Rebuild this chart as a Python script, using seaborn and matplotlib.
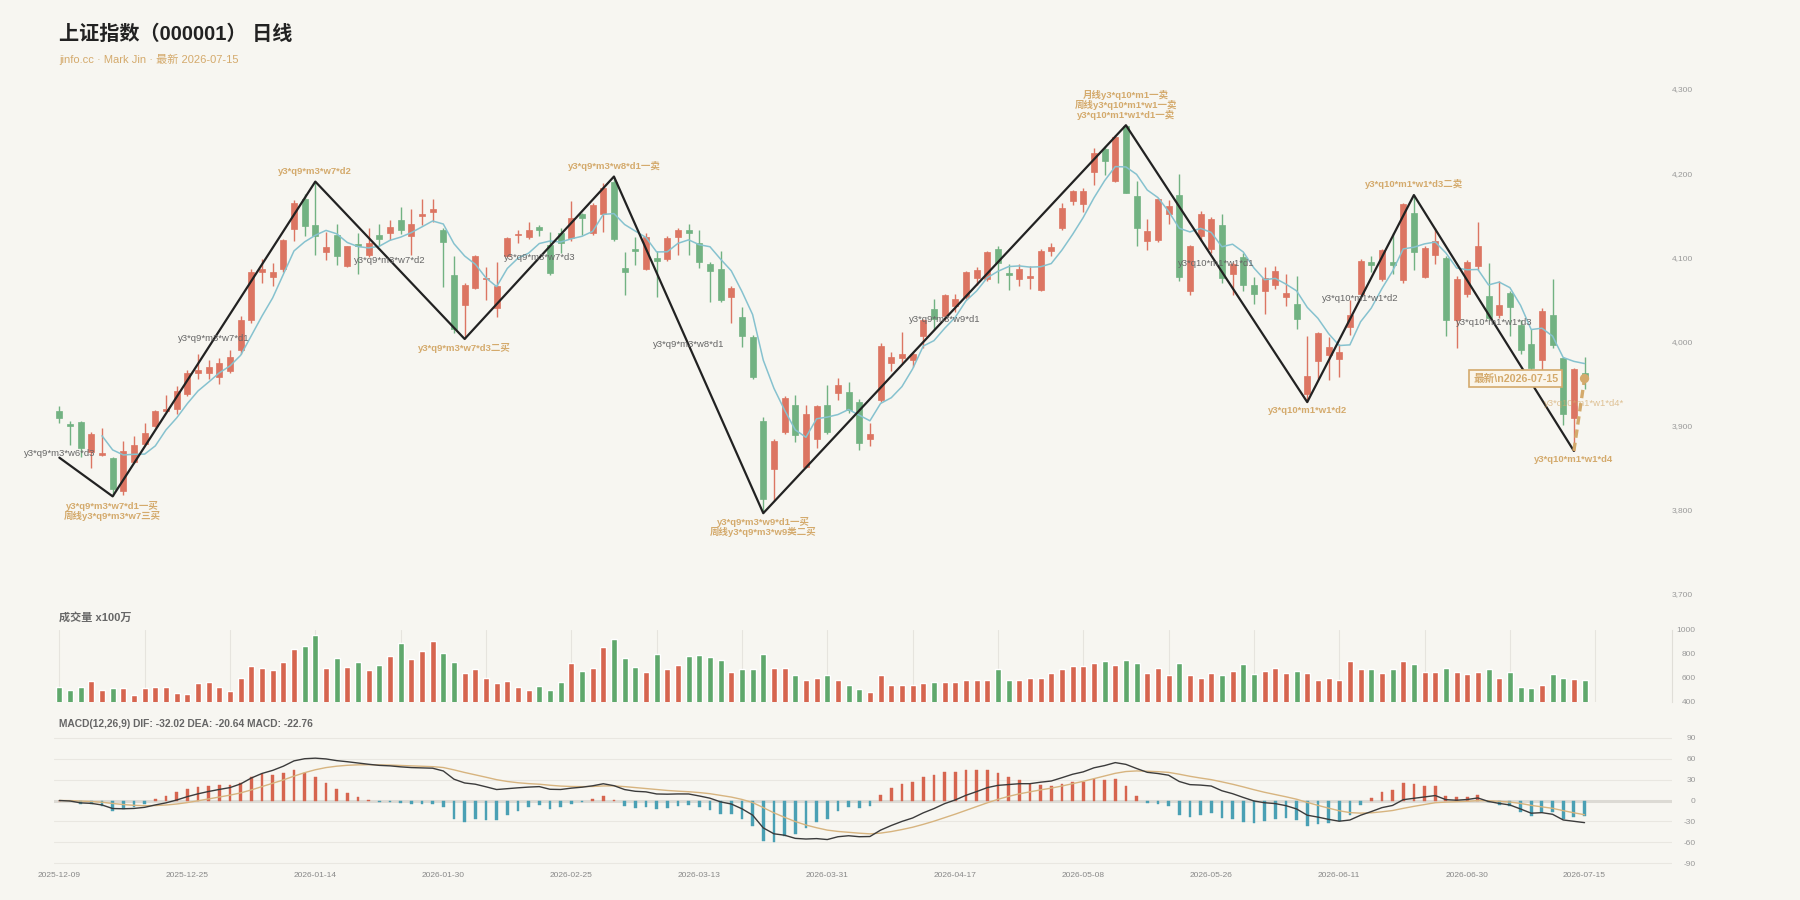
import numpy as np
import pandas as pd
import matplotlib.pyplot as plt
import seaborn as sns

# ---- daily candles (index points) ----
opens = [3917, 3902, 3904, 3869, 3865, 3862, 3822, 3857, 3878, 3900,
         3918, 3920, 3938, 3962, 3962, 3958, 3965, 3990, 4025, 4083,
         4077, 4086, 4134, 4169, 4138, 4106, 4127, 4090, 4116, 4103,
         4126, 4129, 4144, 4125, 4149, 4154, 4132, 4079, 4043, 4064,
         4074, 4040, 4102, 4127, 4124, 4136, 4115, 4129, 4123, 4151,
         4129, 4152, 4189, 4087, 4110, 4086, 4099, 4098, 4124, 4132,
         4117, 4092, 4086, 4053, 4029, 4005, 3906, 3849, 3892, 3925,
         3851, 3884, 3925, 3939, 3940, 3928, 3884, 3930, 3975, 3980,
         3978, 4006, 4039, 4030, 4042, 4053, 4075, 4074, 4110, 4081,
         4074, 4075, 4061, 4107, 4135, 4167, 4163, 4201, 4229, 4191,
         4256, 4173, 4119, 4121, 4152, 4174, 4060, 4125, 4110, 4138,
         4080, 4100, 4067, 4060, 4067, 4053, 4045, 3938, 3977, 3984,
         3979, 4017, 4057, 4094, 4074, 4094, 4073, 4153, 4077, 4103,
         4099, 4026, 4057, 4090, 4054, 4031, 4058, 4020, 3997, 3978,
         4031, 3980, 3909, 3963]
highs = [3923, 3905, 3905, 3892, 3897, 3863, 3882, 3888, 3903, 3919,
         3936, 3947, 3966, 3985, 3978, 3980, 3990, 4030, 4086, 4098,
         4093, 4122, 4168, 4175, 4190, 4130, 4140, 4114, 4129, 4135,
         4140, 4144, 4160, 4158, 4169, 4169, 4135, 4102, 4070, 4103,
         4088, 4094, 4124, 4132, 4142, 4139, 4130, 4135, 4167, 4153,
         4164, 4188, 4196, 4106, 4124, 4129, 4107, 4125, 4135, 4140,
         4133, 4095, 4108, 4066, 4041, 4008, 3910, 3884, 3935, 3936,
         3924, 3925, 3948, 3957, 3952, 3932, 3903, 3998, 3988, 4011,
         3988, 4027, 4050, 4057, 4057, 4084, 4088, 4108, 4114, 4092,
         4092, 4090, 4110, 4117, 4165, 4180, 4182, 4230, 4232, 4245,
         4257, 4191, 4145, 4171, 4168, 4199, 4115, 4155, 4148, 4152,
         4095, 4105, 4077, 4089, 4090, 4080, 4078, 4007, 4011, 4005,
         3997, 4049, 4098, 4101, 4110, 4129, 4165, 4174, 4113, 4135,
         4101, 4078, 4097, 4142, 4093, 4072, 4060, 4025, 4015, 4040,
         4074, 3982, 3968, 3981]
lows = [3903, 3877, 3863, 3850, 3864, 3816, 3818, 3856, 3877, 3899,
        3917, 3914, 3935, 3955, 3955, 3950, 3962, 3985, 4022, 4069,
        4066, 4083, 4120, 4125, 4103, 4097, 4091, 4089, 4080, 4100,
        4113, 4121, 4128, 4103, 4138, 4142, 4065, 4010, 4003, 4062,
        4049, 4029, 4100, 4117, 4122, 4125, 4079, 4105, 4120, 4127,
        4127, 4130, 4120, 4055, 4091, 4085, 4053, 4096, 4103, 4103,
        4087, 4047, 4047, 4022, 3994, 3955, 3796, 3810, 3890, 3881,
        3850, 3873, 3890, 3930, 3915, 3871, 3876, 3928, 3965, 3975,
        3970, 3992, 4015, 4025, 4035, 4050, 4067, 4072, 4070, 4061,
        4066, 4062, 4060, 4102, 4132, 4162, 4154, 4186, 4198, 4189,
        4176, 4114, 4109, 4118, 4140, 4072, 4055, 4120, 4105, 4070,
        4055, 4060, 4045, 4033, 4062, 4042, 4015, 3928, 3956, 3954,
        3958, 4008, 4055, 4083, 4072, 4080, 4070, 4085, 4075, 4092,
        4007, 3992, 4053, 4085, 4025, 4028, 4006, 3985, 3966, 3960,
        3992, 3901, 3870, 3944]
closes = [3909, 3900, 3873, 3890, 3868, 3825, 3870, 3877, 3891, 3917,
          3920, 3941, 3962, 3966, 3970, 3975, 3982, 4025, 4083, 4086,
          4083, 4121, 4165, 4137, 4125, 4112, 4101, 4113, 4113, 4117,
          4122, 4136, 4132, 4140, 4151, 4157, 4118, 4015, 4067, 4102,
          4076, 4066, 4123, 4128, 4132, 4133, 4081, 4117, 4147, 4147,
          4162, 4182, 4122, 4082, 4108, 4124, 4096, 4123, 4132, 4129,
          4095, 4084, 4049, 4063, 4006, 3958, 3813, 3882, 3933, 3889,
          3914, 3923, 3892, 3948, 3919, 3880, 3890, 3995, 3982, 3985,
          3985, 4026, 4027, 4055, 4051, 4082, 4085, 4106, 4093, 4079,
          4086, 4078, 4108, 4112, 4159, 4179, 4179, 4224, 4214, 4243,
          4177, 4135, 4131, 4169, 4161, 4077, 4113, 4152, 4145, 4076,
          4092, 4067, 4057, 4075, 4084, 4058, 4027, 3959, 4010, 3993,
          3987, 4031, 4096, 4091, 4109, 4091, 4163, 4106, 4111, 4120,
          4026, 4074, 4095, 4113, 4028, 4043, 4041, 3990, 3969, 4036,
          3996, 3914, 3967, 3956]
# volume, x100万
volumes = [525, 497, 525, 575, 500, 514, 514, 461, 514, 522,
           522, 475, 469, 555, 567, 525, 494, 597, 703, 683,
           667, 731, 842, 869, 956, 681, 764, 689, 736, 667,
           708, 783, 889, 756, 822, 908, 806, 733, 639, 675,
           597, 558, 575, 525, 500, 531, 500, 567, 728, 656,
           683, 861, 922, 767, 692, 650, 800, 675, 708, 786,
           792, 777, 748, 651, 671, 671, 797, 680, 680, 622,
           584, 603, 622, 584, 545, 506, 487, 622, 545, 545,
           545, 555, 564, 564, 564, 584, 584, 584, 671, 584,
           584, 603, 603, 642, 671, 700, 700, 729, 739, 710,
           748, 729, 642, 680, 622, 729, 622, 603, 642, 622,
           661, 719, 632, 661, 680, 642, 661, 642, 584, 603,
           584, 739, 671, 671, 642, 671, 739, 719, 651, 651,
           680, 651, 632, 651, 671, 603, 651, 526, 516, 545,
           632, 603, 593, 584]

holidays = ['2026-01-01', '2026-01-02', '2026-02-16', '2026-02-17', '2026-02-18',
            '2026-02-19', '2026-02-20', '2026-02-23', '2026-04-06', '2026-05-01',
            '2026-05-04', '2026-05-05', '2026-06-19']

# ---- zigzag pivots (bar index, price) and their labels ----
pivot_idx = [0, 5, 24, 38, 52, 66, 100, 117, 127, 142]
pivot_val = [3862, 3816, 4190, 4003, 4196, 3796, 4257, 3928, 4174, 3870]
pivot_kind = ['start', 'low', 'high', 'low', 'high', 'low', 'high', 'low', 'high', 'low']
pivot_text = ['',
              'y3*q9*m3*w7*d1一买\n周线y3*q9*m3*w7三买',
              'y3*q9*m3*w7*d2',
              'y3*q9*m3*w7*d3二买',
              'y3*q9*m3*w8*d1一卖',
              'y3*q9*m3*w9*d1一买\n周线y3*q9*m3*w9类二买',
              '月线y3*q10*m1一卖\n周线y3*q10*m1*w1一卖\ny3*q10*m1*w1*d1一卖',
              'y3*q10*m1*w1*d2',
              'y3*q10*m1*w1*d3二卖',
              'y3*q10*m1*w1*d4']
segment_text = ['y3*q9*m3*w6*d3', 'y3*q9*m3*w7*d1', 'y3*q9*m3*w7*d2', 'y3*q9*m3*w7*d3',
                'y3*q9*m3*w8*d1', 'y3*q9*m3*w9*d1', 'y3*q10*m1*w1*d1', 'y3*q10*m1*w1*d2',
                'y3*q10*m1*w1*d3']
pending_text = 'y3*q10*m1*w1*d4*'
latest_text = '最新\\n2026-07-15'
macd_title = 'MACD(12,26,9) DIF: -32.02 DEA: -20.64 MACD: -22.76'

BG = '#f7f6f1'
RED = '#dc7562'
GREEN = '#72b282'
RED_V = '#d6654f'
GREEN_V = '#5fa86c'
TEAL = '#4aa0b4'
TAN = '#d4aa6c'
GRAY = '#666666'

sns.set_theme(style='white', rc={'axes.facecolor': BG, 'figure.facecolor': BG})
plt.rcParams['font.family'] = ['Liberation Sans', 'Noto Sans CJK SC', 'DejaVu Sans']
plt.rcParams['axes.unicode_minus'] = False

df = pd.DataFrame({'open': opens, 'high': highs, 'low': lows, 'close': closes, 'vol': volumes})
df['date'] = pd.bdate_range('2025-12-09', '2026-07-15', freq='C', holidays=holidays)
df['x'] = np.arange(len(df))
df['up'] = df['close'] >= df['open']
df['ma5'] = df['close'].rolling(5).mean()
ema12 = df['close'].ewm(span=12, adjust=False).mean()
ema26 = df['close'].ewm(span=26, adjust=False).mean()
df['dif'] = ema12 - ema26
df['dea'] = df['dif'].ewm(span=9, adjust=False).mean()
df['hist'] = 2 * (df['dif'] - df['dea'])

fig = plt.figure(figsize=(18, 9), dpi=100)
L, W = 54 / 1800, (1672 - 54) / 1800
ax_p = fig.add_axes([L, 1 - 594 / 900, W, 505 / 900])
ax_v = fig.add_axes([L, 1 - 702 / 900, W, 72 / 900])
ax_m = fig.add_axes([L, 1 - 866.5 / 900, W, 132 / 900])
xlim = (-0.5, 151.2)

# ---- price panel ----
ccol = np.where(df['up'], RED, GREEN)
ax_p.vlines(df['x'], df['low'], df['high'], color=ccol, lw=1.0, zorder=2)
body = np.maximum((df['close'] - df['open']).abs(), 0.8)
ax_p.bar(df['x'], body, bottom=np.minimum(df['open'], df['close']), width=0.56,
         color=ccol, edgecolor=ccol, lw=0.5, zorder=3)
sns.lineplot(data=df.dropna(subset=['ma5']), x='x', y='ma5', ax=ax_p,
             color='#86c2cf', lw=1.1, zorder=4)
ax_p.plot(pivot_idx, pivot_val, color='#222222', lw=1.6, zorder=5)

# pending last stroke
last_x, last_c = df['x'].iloc[-1], df['close'].iloc[-1]
ax_p.plot([pivot_idx[-1], last_x], [pivot_val[-1], last_c], ls=(0, (2.5, 1.5)),
          color=TAN, lw=2.4, zorder=6)
ax_p.scatter([last_x], [last_c], s=45, color=TAN, zorder=7, edgecolor='none')

for px, pv, kind, txt in zip(pivot_idx, pivot_val, pivot_kind, pivot_text):
    if kind == 'high':
        ax_p.annotate(txt, (px, pv), xytext=(0, 4), textcoords='offset points',
                      ha='center', va='bottom', fontsize=6.8, color=TAN,
                      fontweight='bold', linespacing=1.0, zorder=8)
    elif kind == 'low':
        ax_p.annotate(txt, (px, pv), xytext=(0, -3), textcoords='offset points',
                      ha='center', va='top', fontsize=6.8, color=TAN,
                      fontweight='bold', linespacing=1.0, zorder=8)

# segment names at segment midpoints (first one sits on the start point)
for k, txt in enumerate(segment_text):
    if k == 0:
        ax_p.annotate(txt, (pivot_idx[0], pivot_val[0]), xytext=(0, 3),
                      textcoords='offset points', ha='center', va='center',
                      fontsize=6.8, color=GRAY, zorder=8)
    else:
        mx = (pivot_idx[k] + pivot_idx[k + 1]) / 2
        my = (pivot_val[k] + pivot_val[k + 1]) / 2
        ax_p.text(mx, my, txt, ha='center', va='center', fontsize=6.8, color=GRAY, zorder=8)

ax_p.annotate(pending_text, (last_x, last_c), xytext=(0, -18), textcoords='offset points',
              ha='center', va='center', fontsize=6.8, color=TAN, alpha=0.7, zorder=8)
ax_p.annotate(latest_text, (last_x, last_c), xytext=(-19, 0), textcoords='offset points',
              ha='right', va='center', fontsize=7.7, color=TAN, fontweight='bold', zorder=9,
              bbox=dict(boxstyle='square,pad=0.35', facecolor='#faf5ea', edgecolor=TAN, lw=1.2))

ax_p.set_xlim(*xlim)
ax_p.set_ylim(3700, 4300)
ax_p.set_yticks(range(3700, 4301, 100))
ax_p.yaxis.tick_right()
ax_p.yaxis.set_major_formatter(plt.FuncFormatter(lambda v, p: f'{v:,.0f}'))
ax_p.tick_params(axis='y', length=0, pad=0, labelsize=6, labelcolor='#999999')
ax_p.set_xticks([])
ax_p.set_xlabel('')
ax_p.set_ylabel('')
for s in ax_p.spines.values():
    s.set_visible(False)

# ---- volume panel ----
vcol = np.where(df['up'], RED_V, GREEN_V)
ax_v.bar(df['x'], df['vol'], width=0.56, color=vcol, zorder=3)
for gx in range(0, 152, 8):
    ax_v.axvline(gx, color='#e6e4de', lw=0.8, zorder=1)
ax_v.set_xlim(*xlim)
ax_v.set_ylim(400, 1000)
ax_v.set_yticks([400, 600, 800, 1000])
ax_v.yaxis.tick_right()
ax_v.tick_params(axis='y', length=0, pad=17, labelsize=6, labelcolor='#999999')
for lab in ax_v.get_yticklabels():
    lab.set_horizontalalignment('right')
ax_v.set_xticks([])
for name, s in ax_v.spines.items():
    s.set_visible(name == 'right')
ax_v.spines['right'].set_color('#e0ded8')
ax_v.spines['right'].set_linewidth(0.8)

# ---- MACD panel ----
for gy in [-90, -60, -30, 30, 60, 90]:
    ax_m.axhline(gy, color='#e9e7e1', lw=0.8, zorder=1)
ax_m.axhline(0, color='#dcdad4', lw=2.2, zorder=1)
hcol = np.where(df['hist'] >= 0, RED_V, TEAL)
ax_m.bar(df['x'], df['hist'], width=0.26, color=hcol, edgecolor=hcol, lw=0.3,
         zorder=3)
sns.lineplot(data=df, x='x', y='dea', ax=ax_m, color='#d7b47f', lw=1.0, zorder=4)
sns.lineplot(data=df, x='x', y='dif', ax=ax_m, color='#3b3b3b', lw=1.0, zorder=5)
ax_m.set_xlim(*xlim)
ax_m.set_ylim(-95, 95)
ax_m.set_yticks(range(-90, 91, 30))
ax_m.yaxis.tick_right()
ax_m.tick_params(axis='y', length=0, pad=17, labelsize=6, labelcolor='#999999')
for lab in ax_m.get_yticklabels():
    lab.set_horizontalalignment('right')
tick_pos = list(range(0, len(df), 12))
if tick_pos[-1] != len(df) - 1:
    tick_pos.append(len(df) - 1)
ax_m.set_xticks(tick_pos)
ax_m.set_xticklabels([df['date'].iloc[i].strftime('%Y-%m-%d') for i in tick_pos])
ax_m.tick_params(axis='x', length=0, pad=4, labelsize=6, labelcolor='#888888')
ax_m.set_xlabel('')
ax_m.set_ylabel('')
for s in ax_m.spines.values():
    s.set_visible(False)

# ---- headings ----
fig.text(59 / 1800, 1 - 34 / 900, '上证指数（000001） 日线', fontsize=14.5,
         fontweight='bold', color='#222222', va='center', ha='left')
fig.text(59 / 1800, 1 - 59 / 900, 'jinfo.cc · Mark Jin · 最新 2026-07-15', fontsize=8,
         color=TAN, va='center', ha='left')
fig.text(59 / 1800, 1 - 617 / 900, '成交量 x100万', fontsize=8, fontweight='bold',
         color=GRAY, va='center', ha='left')
fig.text(59 / 1800, 1 - 724 / 900, macd_title, fontsize=7.4, fontweight='bold',
         color=GRAY, va='center', ha='left')

fig.savefig('out.png', dpi=100, facecolor=BG)
